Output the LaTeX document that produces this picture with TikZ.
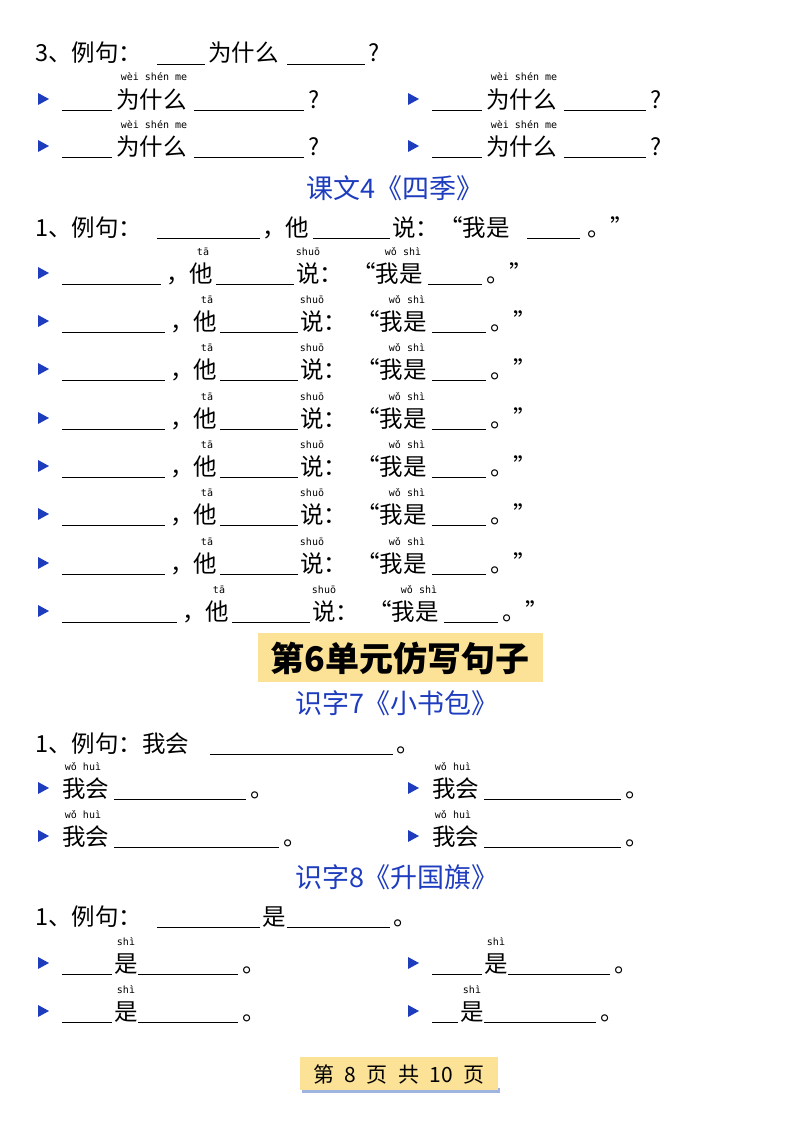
\documentclass[tikz,border=0pt]{standalone}
\usepackage{fontspec}
\setmainfont{Noto Sans CJK SC}
\newfontfamily\pyf{DejaVu Sans Mono}
\definecolor{tblue}{RGB}{30,60,190}
\definecolor{hl}{RGB}{252,226,150}
\definecolor{shd}{RGB}{160,180,225}
\begin{document}
\begin{tikzpicture}[x=1pt,y=-1pt,
  t/.style={anchor=base west,inner sep=0pt,font=\fontsize{23.5}{24}\selectfont},
  py/.style={anchor=base,inner sep=0pt,font=\pyf\fontsize{10}{10}\selectfont},
  ttl/.style={anchor=center,inner sep=0pt,text=tblue,font=\fontsize{27}{27}\selectfont},
  bl/.style={line width=0.9pt}]
\useasboundingbox (0,0) rectangle (800,1132);
\newcommand\tri[2]{\fill[tblue] (#1,#2-15) -- (#1+11,#2-9) -- (#1,#2-3) -- cycle;}
\newcommand\bk[3]{\draw[bl] (#1,#3+2) -- (#2,#3+2);}
% ---- section 3
\node[t] at (35,62) {3、例句：}; \bk{157}{205}{62}
\node[t] at (208,62) {为什么}; \bk{287}{365}{62}
\node[t] at (368,62) {?};
\newcommand\wsm[3]{%
 \tri{#1+0}{#2}
 \bk{#1+24}{#1+74}{#2}
 \node[py] at (#1+116,#2-27) {wèi shén me};
 \node[t] at (#1+78,#2) {为什么};
 \bk{#1+156}{#1+156+#3}{#2}
 \node[t] at (#1+160+#3,#2) {?};}
\wsm{38}{108}{110}\wsm{408}{108}{82}
\wsm{38}{155}{110}\wsm{408}{155}{82}
\node[ttl] at (395,188) {课文4《四季》};
% ---- section 4
\node[t] at (35,236) {1、例句：}; \bk{157}{260}{236}
\node[t] at (262,236) {，他}; \bk{313}{390}{236}
\node[t] at (392,236) {说：“我是}; \bk{527}{580}{236}
\node[t] at (587,236) {。”};
\newcommand\tarow[2]{%
 \tri{38}{#1}
 \bk{62}{165+#2}{#1}
 \node[t] at (170+#2,#1) {，他};
 \node[py] at (207+#2,#1-27) {tā};
 \bk{220+#2}{298+#2}{#1}
 \node[t] at (300+#2,#1) {说：};
 \node[py] at (312+#2,#1-27) {shuō};
 \node[t] at (356+#2,#1) {“我是};
 \node[py] at (407+#2,#1-27) {wǒ shì};
 \bk{432+#2}{486+#2}{#1}
 \node[t] at (490+#2,#1) {。”};}
\tarow{282}{-4}
\tarow{330}{0}\tarow{378}{0}\tarow{427}{0}\tarow{475}{0}
\tarow{523}{0}\tarow{572}{0}\tarow{620}{12}
% ---- highlight title
\fill[hl] (258,633) rectangle (543,682);
\node[anchor=center,inner sep=0pt,font=\fontsize{34}{34}\selectfont\bfseries] at (400,658) {第6单元仿写句子};
\node[ttl] at (397,703) {识字7《小书包》};
\node[t] at (35,752) {1、例句：我会}; \bk{210}{393}{752}
\node[t] at (396,752) {。};
\newcommand\wh[3]{%
 \tri{#1}{#2}
 \node[py] at (#1+45,#2-27) {wǒ huì};
 \node[t] at (#1+24,#2) {我会};
 \bk{#1+76}{#1+76+#3}{#2}
 \node[t] at (#1+80+#3,#2) {。};}
\wh{38}{797}{132}\wh{408}{797}{137}
\wh{38}{845}{165}\wh{408}{845}{137}
\node[ttl] at (397,877) {识字8《升国旗》};
\node[t] at (35,925) {1、例句：}; \bk{157}{260}{925}
\node[t] at (262,925) {是}; \bk{287}{390}{925}
\node[t] at (393,925) {。};
\newcommand\shi[4]{%
 \tri{#1}{#2}
 \bk{#1+24}{#1+24+#3}{#2}
 \node[py] at (#1+38+#3,#2-27) {shì};
 \node[t] at (#1+26+#3,#2) {是};
 \bk{#1+50+#3}{#1+50+#3+#4}{#2}
 \node[t] at (#1+54+#3+#4,#2) {。};}
\shi{38}{972}{50}{100}\shi{408}{972}{50}{102}
\shi{38}{1020}{50}{100}\shi{408}{1020}{26}{112}
% ---- footer
\fill[shd] (302,1088) rectangle (500,1093);
\fill[hl] (300,1057) rectangle (498,1090);
\node[anchor=center,inner sep=0pt,font=\fontsize{21}{21}\selectfont] at (399,1074) {第\enspace 8\enspace 页\enspace 共\enspace 10\enspace 页};
\end{tikzpicture}
\end{document}
